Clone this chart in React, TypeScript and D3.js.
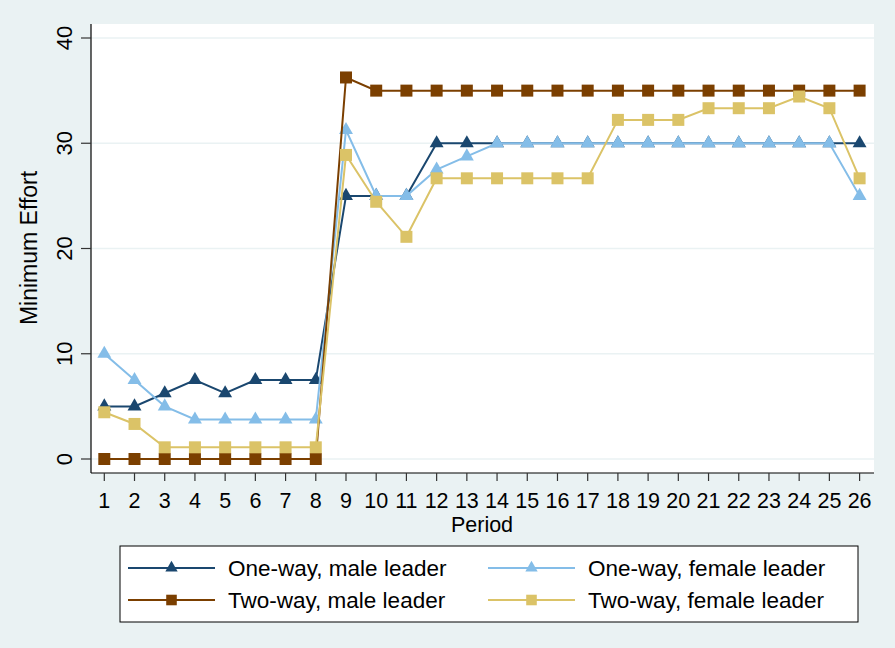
import React from 'react';
import * as d3 from 'd3';

const periods = d3.range(1, 27);
const yTicks = [0, 10, 20, 30, 40];

const oneWayMale = [5, 5, 6.25, 7.5, 6.25, 7.5, 7.5, 7.5, 25, 25, 25, 30, 30, 30, 30, 30, 30, 30, 30, 30, 30, 30, 30, 30, 30, 30];
const oneWayFemale = [10, 7.5, 5, 3.75, 3.75, 3.75, 3.75, 3.75, 31.25, 25, 25, 27.5, 28.75, 30, 30, 30, 30, 30, 30, 30, 30, 30, 30, 30, 30, 25];
const twoWayMale = [0, 0, 0, 0, 0, 0, 0, 0, 36.25, 35, 35, 35, 35, 35, 35, 35, 35, 35, 35, 35, 35, 35, 35, 35, 35, 35];
const twoWayFemale = [4.44, 3.33, 1.11, 1.11, 1.11, 1.11, 1.11, 1.11, 28.89, 24.44, 21.11, 26.67, 26.67, 26.67, 26.67, 26.67, 26.67, 32.22, 32.22, 32.22, 33.33, 33.33, 33.33, 34.44, 33.33, 26.67];

const series = [
  { name: 'One-way, male leader', values: oneWayMale, color: '#1a476f', marker: 'triangle' },
  { name: 'One-way, female leader', values: oneWayFemale, color: '#84bde8', marker: 'triangle' },
  { name: 'Two-way, male leader', values: twoWayMale, color: '#7b3f00', marker: 'square' },
  { name: 'Two-way, female leader', values: twoWayFemale, color: '#dbc367', marker: 'square' },
];

const W = 895;
const H = 648;
const plot = { left: 91, right: 874, top: 24, bottom: 473 };
const font = '"Liberation Sans", Arial, sans-serif';

const App = () => {
  const x = d3.scaleLinear().domain([1, 26]).range([104.3, 859.6]);
  const y = d3.scaleLinear().domain([0, 40]).range([459, 38]);

  const line = d3.line<number>()
    .x((d, i) => x(periods[i]))
    .y(d => y(d));

  const tri = d3.symbol().type(d3.symbolTriangle).size(84)();
  const sq = d3.symbol().type(d3.symbolSquare).size(144)();
  const triSmall = d3.symbol().type(d3.symbolTriangle).size(66)();
  const sqSmall = d3.symbol().type(d3.symbolSquare).size(112)();

  // legend layout: two columns, two rows
  const legendCols = [128, 488];
  const legendRows = [568, 600];

  return (
    <svg width={W} height={H} style={{ position: 'absolute', left: 0, top: 0, fontFamily: font }}>
      <rect x={0} y={0} width={W} height={H} fill="#eaf2f3" />
      <rect x={plot.left} y={plot.top} width={plot.right - plot.left} height={plot.bottom - plot.top} fill="#ffffff" />

      {/* grid */}
      {yTicks.map(t => (
        <line key={'g' + t} x1={plot.left} x2={plot.right} y1={y(t)} y2={y(t)} stroke="#eaf2f3" strokeWidth={1.6} />
      ))}

      {/* axes */}
      <line x1={plot.left} x2={plot.left} y1={plot.top} y2={plot.bottom} stroke="#000" strokeWidth={1.2} />
      <line x1={plot.left} x2={plot.right} y1={plot.bottom} y2={plot.bottom} stroke="#000" strokeWidth={1.2} />

      {yTicks.map(t => (
        <g key={'yt' + t}>
          <line x1={81} x2={plot.left} y1={y(t)} y2={y(t)} stroke="#333" strokeWidth={1.2} />
          <text transform={`translate(72,${y(t)}) rotate(-90)`} textAnchor="middle" fontSize={22} fill="#000">{t}</text>
        </g>
      ))}
      <text transform="translate(37,248) rotate(-90)" textAnchor="middle" fontSize={23} fill="#000">Minimum Effort</text>

      {periods.map(p => (
        <g key={'xt' + p}>
          <line x1={x(p)} x2={x(p)} y1={plot.bottom} y2={plot.bottom + 8} stroke="#333" strokeWidth={1.2} />
          <text x={x(p)} y={508} textAnchor="middle" fontSize={21.5} fill="#000">{p}</text>
        </g>
      ))}
      <text x={482} y={532} textAnchor="middle" fontSize={21.5} fill="#000">Period</text>

      {/* series */}
      {series.map(s => (
        <g key={s.name}>
          <path d={line(s.values) || ''} fill="none" stroke={s.color} strokeWidth={2} />
          {s.values.map((v, i) => (
            <path key={i} d={s.marker === 'triangle' ? tri : sq}
              transform={`translate(${x(periods[i])},${y(v)})`} fill={s.color} />
          ))}
        </g>
      ))}

      {/* legend */}
      <rect x={120} y={546} width={738} height={76} fill="#fff" stroke="#000" strokeWidth={1} />
      {series.map((s, i) => {
        const cx = legendCols[i % 2];
        const cy = legendRows[Math.floor(i / 2)];
        return (
          <g key={'lg' + s.name}>
            <line x1={cx} x2={cx + 87} y1={cy} y2={cy} stroke={s.color} strokeWidth={2} />
            <path d={s.marker === 'triangle' ? triSmall : sqSmall} transform={`translate(${cx + 43.5},${cy})`} fill={s.color} />
            <text x={cx + 100} y={cy + 8} fontSize={22.5} fill="#000">{s.name}</text>
          </g>
        );
      })}
    </svg>
  );
};

export default App;
